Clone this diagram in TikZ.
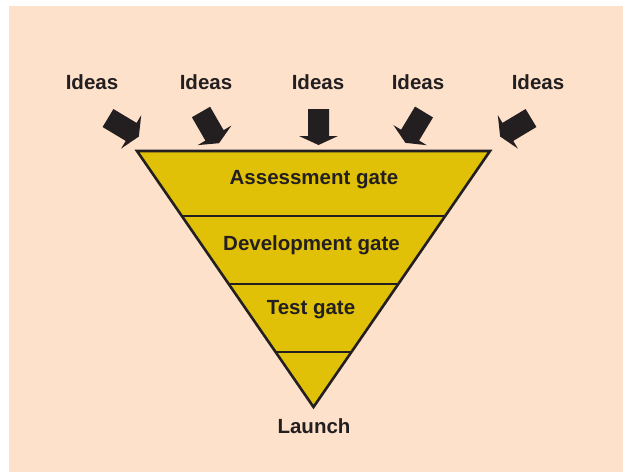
\documentclass[tikz,border=0pt]{standalone}
\usepackage{fontspec}
\setmainfont{Liberation Sans}
\usetikzlibrary{calc}
\definecolor{paper}{HTML}{FDE1CB}
\definecolor{funnelfill}{HTML}{E0C107}
\definecolor{ink}{HTML}{231F20}
\tikzset{
  label text/.style={text=ink, font=\bfseries\fontsize{20.5}{25}\selectfont, inner sep=0pt, anchor=base},
  funnel edge/.style={draw=ink, line width=2.6pt, line join=miter},
  pics/ideaarrow/.style={code={
    \fill[ink] (0,-10.5) -- (27,-10.5) -- (27,-19.5) -- (36,0) -- (27,19.5) -- (27,10.5) -- (0,10.5) -- cycle;
  }}
}
\begin{document}
\begin{tikzpicture}[x=1pt,y=-1pt]
\useasboundingbox (0,0) rectangle (623,472);
\fill[white] (0,0) rectangle (623,472);
\fill[paper] (9,6) rectangle (623,472);

% funnel outline
\coordinate (tl) at (137,151);
\coordinate (tr) at (490,151);
\coordinate (apex) at (313.5,407);
\fill[funnelfill] (tl) -- (tr) -- (apex) -- cycle;

% gate dividers
\coordinate (l1) at ($(tl)!0.254!(apex)$);
\coordinate (r1) at ($(tr)!0.254!(apex)$);
\coordinate (l2) at ($(tl)!0.52!(apex)$);
\coordinate (r2) at ($(tr)!0.52!(apex)$);
\coordinate (l3) at ($(tl)!0.785!(apex)$);
\coordinate (r3) at ($(tr)!0.785!(apex)$);
\draw[draw=ink, line width=2.4pt] (l1) -- (r1) (l2) -- (r2) (l3) -- (r3);
\draw[funnel edge] (tl) -- (tr) -- (apex) -- cycle;

% gate labels
\node[label text] (assess) at (314,184.5) {Assessment gate};
\node[label text] (devel) at (311.5,250) {Development gate};
\node[label text] (test) at (311,314) {Test gate};
\node[label text] (launch) at (314,433) {Launch};

% incoming ideas
\node[label text] (idea1) at (92,89) {Ideas};
\node[label text] (idea2) at (206,89) {Ideas};
\node[label text] (idea3) at (318,89) {Ideas};
\node[label text] (idea4) at (418,89) {Ideas};
\node[label text] (idea5) at (538,89) {Ideas};

\pic[rotate=-31] at (108,118) {ideaarrow};
\pic[rotate=-60] at (201,112) {ideaarrow};
\pic[rotate=-90] at (318.5,109) {ideaarrow};
\pic[rotate=-121] at (424,112) {ideaarrow};
\pic[rotate=-149] at (531,118) {ideaarrow};
\end{tikzpicture}
\end{document}
